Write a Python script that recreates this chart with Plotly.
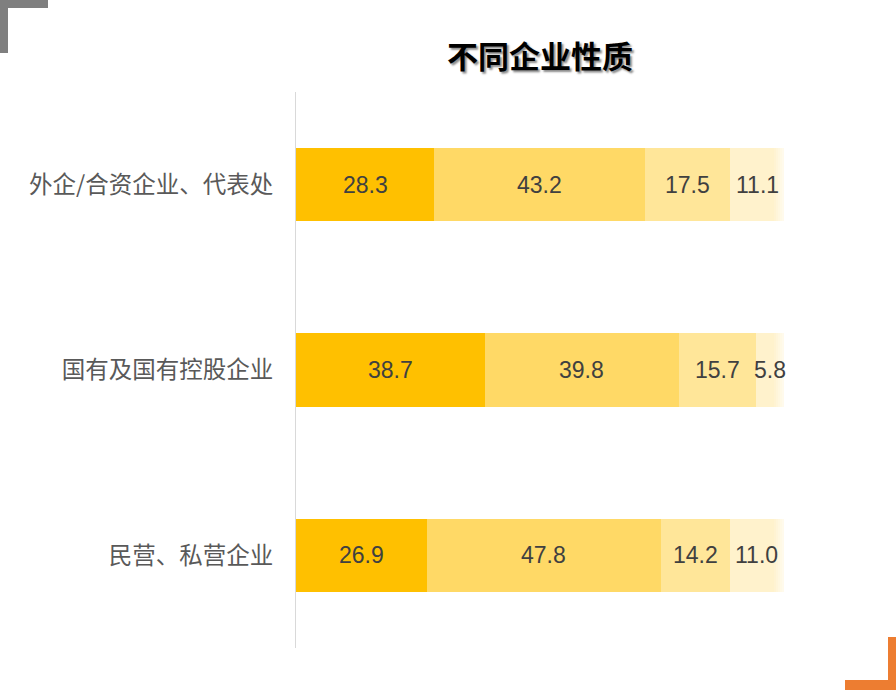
import plotly.graph_objects as go

categories = ["外企/合资企业、代表处", "国有及国有控股企业", "民营、私营企业"]
seg1 = [28.3, 38.7, 26.9]
seg2 = [43.2, 39.8, 47.8]
seg3 = [17.5, 15.7, 14.2]
seg4 = [11.1, 5.8, 11.0]
series = [seg1, seg2, seg3, seg4]
colors = ["#FFC000", "#FFD966", "#FFE699", "#FFF2CC"]
title_text = "不同企业性质"

FONT = "Liberation Sans, Noto Sans CJK SC, Arial, sans-serif"

W, H = 896, 690
L, R, T, B = 296, 112, 92, 42
pw, ph = W - L - R, H - T - B


def px(xp):
    return (xp - L) / pw


def py(yp):
    return (H - B - yp) / ph


fig = go.Figure()
for vals, col in zip(series, colors):
    fig.add_trace(go.Bar(
        y=categories, x=vals, orientation="h",
        marker=dict(color=col, line=dict(width=0)),
        textposition="none", hoverinfo="skip",
    ))

# value labels at segment centers
annotations = []
for i, cat in enumerate(categories):
    base = 0.0
    for vals in series:
        v = vals[i]
        annotations.append(dict(
            x=base + v / 2, y=cat, xref="x", yref="y",
            text=f"{v:.1f}", showarrow=False,
            font=dict(family=FONT, size=23, color="#404040"),
        ))
        base += v

# title with soft shadow
annotations.append(dict(
    x=px(540), y=py(55), xref="paper", yref="paper",
    xanchor="center", yanchor="middle",
    text=f"<b>{title_text}</b>", showarrow=False,
    font=dict(family="Noto Sans CJK SC", size=31, color="#000000",
              shadow="2px 2px 2px rgba(0,0,0,0.45)"),
))

shapes = [
    # gray top-left corner
    dict(type="rect", xref="paper", yref="paper", x0=px(0), x1=px(8), y0=py(53), y1=py(0),
         fillcolor="#7F7F7F", line=dict(width=0), layer="above"),
    dict(type="rect", xref="paper", yref="paper", x0=px(0), x1=px(48), y0=py(8), y1=py(0),
         fillcolor="#7F7F7F", line=dict(width=0), layer="above"),
    # orange bottom-right corner
    dict(type="rect", xref="paper", yref="paper", x0=px(888), x1=px(896), y0=py(690), y1=py(637),
         fillcolor="#ED7D31", line=dict(width=0), layer="above"),
    dict(type="rect", xref="paper", yref="paper", x0=px(845), x1=px(896), y0=py(690), y1=py(680),
         fillcolor="#ED7D31", line=dict(width=0), layer="above"),
]

# soft fade at the right end of the bars
fade_start, fade_end, steps = 774, 788, 7
sw = (fade_end - fade_start) / steps
for k in range(steps):
    x0 = fade_start + k * sw
    shapes.append(dict(
        type="rect", xref="paper", yref="paper", x0=px(x0), x1=px(x0 + sw),
        y0=0, y1=1, fillcolor="white", opacity=(k + 1) / (steps + 1),
        line=dict(width=0), layer="above",
    ))

fig.update_layout(
    width=W, height=H, barmode="stack", bargap=0.605,
    showlegend=False,
    paper_bgcolor="white", plot_bgcolor="white",
    margin=dict(l=L, r=R, t=T, b=B, pad=0),
    xaxis=dict(range=[0, 100], visible=False, fixedrange=True),
    yaxis=dict(
        categoryorder="array", categoryarray=categories, autorange="reversed",
        showline=True, linecolor="#D9D9D9", linewidth=1,
        showgrid=False, zeroline=False, fixedrange=True,
        ticks="outside", ticklen=17, tickcolor="rgba(0,0,0,0)",
        tickfont=dict(family="Noto Sans CJK SC", size=23.5, color="#595959"),
    ),
    annotations=annotations,
    shapes=shapes,
)

fig.write_html("out.html", config={"displayModeBar": False},
               post_script="document.body.style.margin='0px';")
